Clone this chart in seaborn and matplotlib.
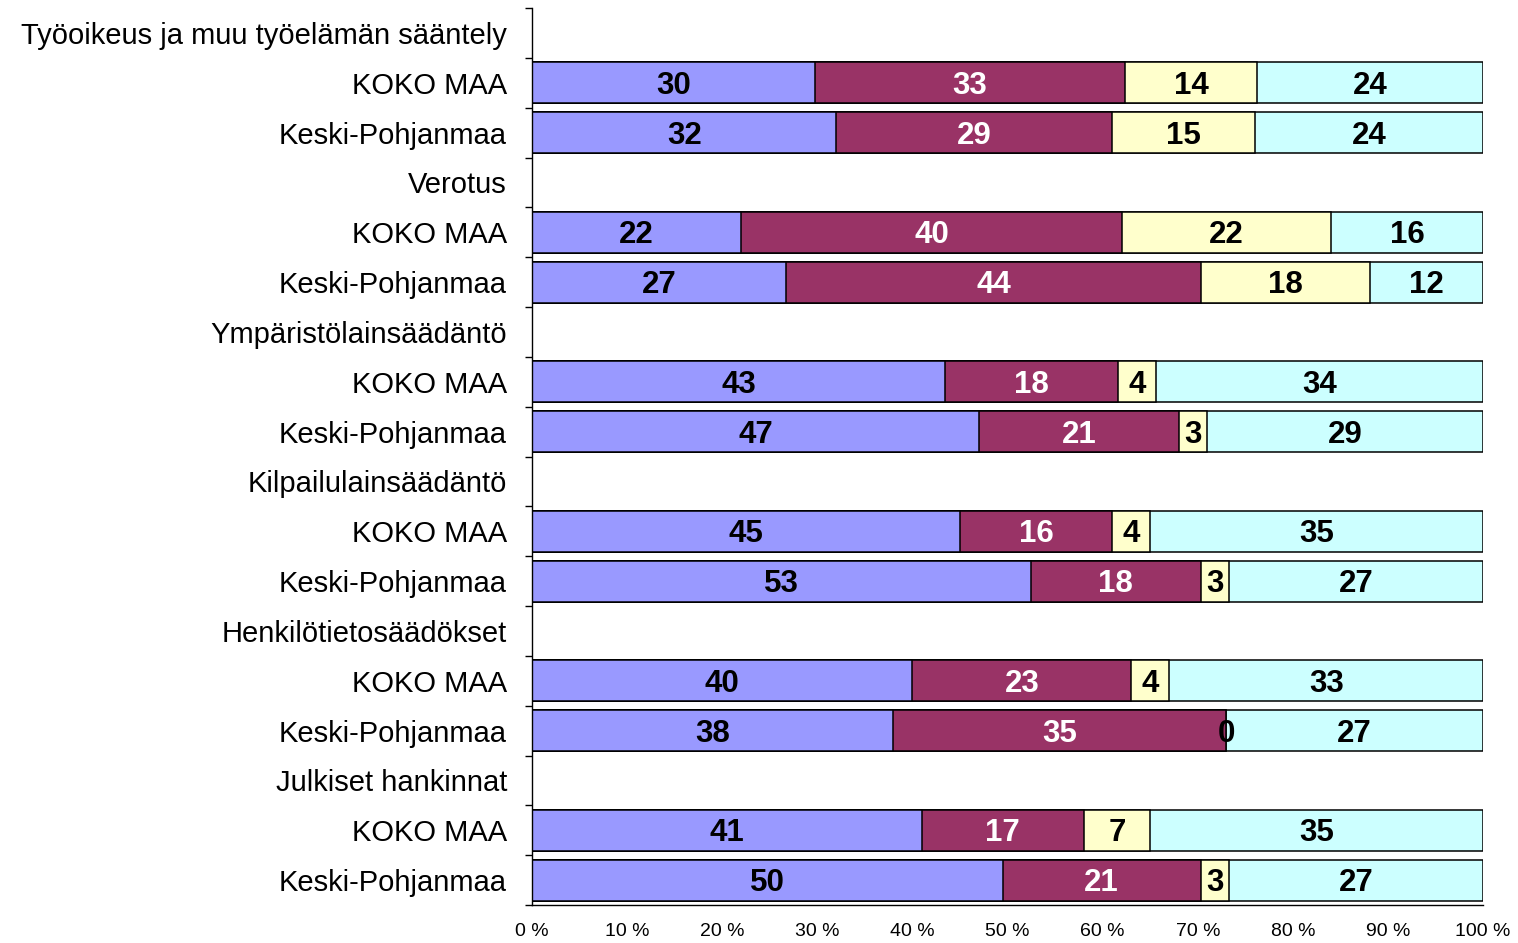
import matplotlib
matplotlib.use("Agg")
import numpy as np
import pandas as pd
import matplotlib.pyplot as plt
import seaborn as sns
from matplotlib.ticker import FuncFormatter, FixedLocator

# ---- data ----
groups = [
    "Työoikeus ja muu työelämän sääntely",
    "Verotus",
    "Ympäristölainsäädäntö",
    "Kilpailulainsäädäntö",
    "Henkilötietosäädökset",
    "Julkiset hankinnat",
]
regions = ["KOKO MAA", "Keski-Pohjanmaa"]

# one value per bar (group x region), in order
s1 = [30, 32, 22, 27, 43, 47, 45, 53, 40, 38, 41, 50]
s2 = [33, 29, 40, 44, 18, 21, 16, 18, 23, 35, 17, 21]
s3 = [14, 15, 22, 18, 4, 3, 4, 3, 4, 0, 7, 3]
s4 = [24, 24, 16, 12, 34, 29, 35, 27, 33, 27, 35, 27]

colors = ["#9999FF", "#993366", "#FFFFCC", "#CCFFFF"]
text_colors = ["black", "white", "black", "black"]

# ---- categories (group header rows have no bar) ----
order, tick_labels = [], []
for g in groups:
    order.append(g)
    tick_labels.append(g)
    for r in regions:
        order.append(f"{g}|{r}")
        tick_labels.append(r)
bar_keys = [f"{g}|{r}" for g in groups for r in regions]

vals = np.array([s1, s2, s3, s4], dtype=float)
shares = vals / vals.sum(axis=0) * 100  # 100 % stacked
cum = np.cumsum(shares, axis=0)

df = pd.DataFrame({"key": bar_keys})
for k in range(4):
    df[f"cum{k}"] = cum[k]

sns.set_style("white")
plt.rcParams["font.family"] = ["Liberation Sans", "DejaVu Sans"]
plt.rcParams["text.color"] = "black"
plt.rcParams["xtick.color"] = "black"
plt.rcParams["ytick.color"] = "black"

fig = plt.figure(figsize=(15.18, 9.43), dpi=100)
ax = fig.add_axes([0.3505, 0.0403, 0.6265, 0.9512])

# draw cumulative bars from the longest to the shortest so they stack visually
for k in reversed(range(4)):
    sns.barplot(data=df, x=f"cum{k}", y="key", order=order, orient="h",
                color=colors[k], saturation=1, edgecolor="black",
                linewidth=1.1, width=0.82, ax=ax)

# value labels
for j, key in enumerate(bar_keys):
    ypos = order.index(key)
    for k in range(4):
        left = cum[k, j] - shares[k, j]
        ax.text(left + shares[k, j] / 2, ypos + 0.06, f"{int(vals[k, j])}",
                ha="center", va="center", fontsize=22.5, fontweight="bold",
                color=text_colors[k])

ax.set_xlim(0, 100)
ax.set_ylim(len(order) - 0.5, -0.5)
ax.set_xlabel("")
ax.set_ylabel("")

ax.xaxis.set_major_locator(FixedLocator(np.arange(0, 101, 10)))
ax.xaxis.set_major_formatter(FuncFormatter(lambda v, p: f"{int(v)} %"))
for lab in ax.get_xticklabels():
    lab.set_family(["Liberation Sans Narrow", "Liberation Sans"])
ax.tick_params(axis="x", which="major", direction="out", length=7, width=1,
               colors="black", labelsize=14, pad=6)

ax.set_yticks(range(len(order)))
ax.set_yticklabels(tick_labels, fontsize=21, color="black")
ax.yaxis.set_minor_locator(FixedLocator(np.arange(-0.5, len(order), 1)))
ax.tick_params(axis="y", which="major", length=0, pad=18)
ax.tick_params(axis="y", which="minor", direction="out", length=5, width=1,
               color="black", left=True)

sns.despine(ax=ax, top=True, right=True)
ax.spines["left"].set_color("black")
ax.spines["bottom"].set_color("black")
ax.spines["left"].set_linewidth(1)
ax.spines["bottom"].set_linewidth(1)

fig.savefig("out.png", dpi=100)
